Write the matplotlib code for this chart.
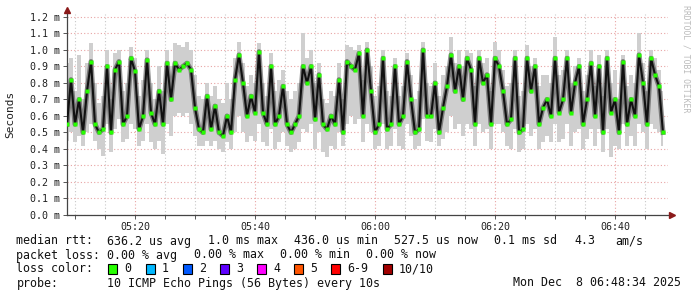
import numpy as np
import pandas as pd
import matplotlib
matplotlib.use("Agg")
import matplotlib.pyplot as plt
import matplotlib.dates as mdates
from matplotlib.patches import Rectangle

# median rtt in ms, one value every 40 s from 05:08:40
median_ms = [
    0.55, 0.82, 0.55, 0.70, 0.50, 0.75, 0.93, 0.55, 0.50, 0.52,
    0.90, 0.50, 0.88, 0.93, 0.55, 0.60, 0.95, 0.87, 0.52, 0.60,
    0.94, 0.62, 0.55, 0.75, 0.55, 0.92, 0.70, 0.92, 0.88, 0.90,
    0.92, 0.88, 0.65, 0.52, 0.50, 0.72, 0.52, 0.66, 0.50, 0.48,
    0.60, 0.50, 0.82, 0.97, 0.80, 0.60, 0.72, 0.62, 0.99, 0.62,
    0.55, 0.90, 0.55, 0.60, 0.78, 0.55, 0.50, 0.55, 0.60, 0.90,
    0.80, 0.90, 0.58, 0.85, 0.55, 0.52, 0.60, 0.55, 0.82, 0.50,
    0.93, 0.90, 0.88, 0.98, 0.60, 1.00, 0.75, 0.50, 0.55, 0.95,
    0.52, 0.55, 0.90, 0.55, 0.60, 0.93, 0.70, 0.50, 0.52, 1.00,
    0.60, 0.60, 0.80, 0.50, 0.65, 0.78, 0.97, 0.75, 0.90, 0.70,
    0.95, 0.88, 0.55, 0.95, 0.80, 0.85, 0.55, 0.95, 0.90, 0.75,
    0.55, 0.58, 0.95, 0.50, 0.52, 0.95, 0.75, 0.90, 0.55, 0.65,
    0.70, 0.60, 0.95, 0.62, 0.70, 0.95, 0.62, 0.80, 0.90, 0.55,
    0.70, 0.92, 0.60, 0.90, 0.50, 0.95, 0.62, 0.70, 0.50, 0.93,
    0.55, 0.70, 0.60, 0.97, 0.80, 0.55, 0.95, 0.85, 0.78, 0.50,
]

# slowest ping of each step (top of the smoke)
smoke_hi_ms = [
    0.92, 0.95, 0.75, 0.97, 0.70, 0.92, 1.04, 0.80, 0.68, 0.72,
    1.00, 0.70, 0.98, 1.00, 0.75, 0.80, 1.02, 0.95, 0.72, 0.82,
    1.00, 0.80, 0.70, 0.90, 0.75, 1.00, 0.90, 1.04, 1.03, 1.02,
    1.05, 1.00, 0.85, 0.72, 0.70, 0.80, 0.72, 0.78, 0.70, 0.68,
    0.80, 0.70, 0.95, 1.05, 0.92, 0.78, 0.85, 0.80, 1.04, 0.80,
    0.72, 0.98, 0.75, 0.82, 0.88, 0.75, 0.70, 0.75, 0.80, 1.10,
    0.95, 1.00, 0.80, 0.92, 0.70, 0.68, 0.75, 0.72, 0.92, 0.70,
    1.03, 1.02, 1.00, 1.03, 0.82, 1.05, 0.90, 0.72, 0.78, 1.00,
    0.75, 0.72, 0.95, 0.72, 0.78, 0.98, 0.85, 0.70, 0.75, 1.05,
    0.80, 0.78, 0.92, 0.72, 0.85, 0.90, 1.08, 0.92, 1.00, 0.90,
    1.00, 0.98, 0.78, 1.00, 0.92, 0.95, 0.75, 1.05, 1.00, 0.88,
    0.78, 0.80, 1.00, 0.72, 0.75, 1.03, 0.90, 0.95, 0.78, 0.85,
    0.85, 0.80, 1.08, 0.85, 0.88, 1.00, 0.80, 0.90, 0.95, 0.75,
    0.85, 1.00, 0.78, 0.97, 0.72, 1.00, 0.80, 0.88, 0.70, 0.97,
    0.78, 0.85, 0.80, 1.10, 0.92, 0.75, 1.00, 0.95, 0.88, 0.75,
]

# fastest ping of each step (bottom of the smoke)
smoke_lo_ms = [
    0.45, 0.50, 0.44, 0.48, 0.42, 0.50, 0.55, 0.45, 0.40, 0.36,
    0.55, 0.38, 0.52, 0.58, 0.44, 0.46, 0.55, 0.52, 0.42, 0.45,
    0.55, 0.44, 0.40, 0.45, 0.37, 0.55, 0.48, 0.60, 0.62, 0.60,
    0.62, 0.55, 0.48, 0.42, 0.42, 0.45, 0.42, 0.45, 0.40, 0.38,
    0.44, 0.40, 0.50, 0.60, 0.50, 0.44, 0.48, 0.45, 0.55, 0.44,
    0.42, 0.52, 0.40, 0.44, 0.50, 0.42, 0.38, 0.40, 0.44, 0.52,
    0.50, 0.55, 0.40, 0.50, 0.38, 0.35, 0.42, 0.40, 0.50, 0.42,
    0.55, 0.60, 0.55, 0.58, 0.44, 0.55, 0.50, 0.40, 0.42, 0.55,
    0.40, 0.42, 0.52, 0.42, 0.40, 0.55, 0.48, 0.40, 0.42, 0.58,
    0.45, 0.44, 0.52, 0.42, 0.46, 0.50, 0.60, 0.52, 0.55, 0.48,
    0.55, 0.52, 0.42, 0.55, 0.50, 0.52, 0.40, 0.55, 0.55, 0.50,
    0.42, 0.40, 0.52, 0.38, 0.40, 0.55, 0.48, 0.52, 0.40, 0.44,
    0.48, 0.44, 0.55, 0.44, 0.46, 0.55, 0.42, 0.50, 0.52, 0.40,
    0.46, 0.52, 0.42, 0.52, 0.38, 0.52, 0.35, 0.42, 0.40, 0.55,
    0.42, 0.48, 0.42, 0.55, 0.50, 0.40, 0.55, 0.52, 0.50, 0.42,
]

y_ticks = [0.0, 0.1, 0.2, 0.3, 0.4, 0.5, 0.6, 0.7, 0.8, 0.9, 1.0, 1.1, 1.2]

legend_rtt = [("median rtt:", 16.5), ("636.2 us avg", 107), ("1.0 ms max", 208),
              ("436.0 us min", 294), ("527.5 us now", 394), ("0.1 ms sd", 494),
              ("4.3", 574), ("am/s", 615)]
legend_loss = [("packet loss:", 16.5), ("0.00 % avg", 107), ("0.00 % max", 194),
               ("0.00 % min", 279.5), ("0.00 % now", 366)]
loss_labels = ["0", "1", "2", "3", "4", "5", "6-9", "10/10"]
loss_colors = ["#26ff00", "#00b8ff", "#0059ff", "#5e00ff", "#ff00ff", "#ff5500", "#ff0000", "#a10000"]
loss_box_x = [108, 146, 183, 220, 257, 294, 331, 383]

t_med = pd.date_range("2025-12-08 05:08:40", periods=len(median_ms), freq="40s")

W, H = 697, 297
fig = plt.figure(figsize=(W / 100, H / 100), dpi=100, facecolor="white")
ax = fig.add_axes([67 / W, (H - 215) / H, (668 - 67) / W, (215 - 14) / H])
mono = "DejaVu Sans Mono"

# smoke
ax.fill_between(t_med, smoke_lo_ms, smoke_hi_ms, step="mid", color="#cfcfcf", lw=0, zorder=2)
ax.plot(t_med, median_ms, color="#3a3a3a", lw=3.6, alpha=0.55, zorder=3)
# median
ax.plot(t_med, median_ms, color="#111111", lw=1.5, zorder=4)
ax.plot(t_med, median_ms, ls="none", marker="s", ms=2.4, mec="none", mfc="#26ff00", zorder=5)

ax.set_xlim(pd.Timestamp("2025-12-08 05:08:40"), pd.Timestamp("2025-12-08 06:48:50"))
ax.set_ylim(0, 1.218)

ax.xaxis.set_major_locator(mdates.MinuteLocator(byminute=[0, 20, 40]))
ax.xaxis.set_major_formatter(mdates.DateFormatter("%H:%M"))
ax.xaxis.set_minor_locator(mdates.MinuteLocator(byminute=range(0, 60, 5)))
ax.set_yticks(y_ticks)
ax.set_yticklabels([f"{v:.1f} m" for v in y_ticks])

ax.grid(True, which="major", axis="both", color="#e8a4a4", ls=(0, (1, 2)), lw=0.8, zorder=1)
ax.grid(True, which="minor", axis="x", color="#c8c8c8", ls=(0, (1, 2)), lw=0.8, zorder=1)
for lab in ax.get_xticklabels() + ax.get_yticklabels():
    lab.set_fontfamily(mono)
    lab.set_fontsize(7.2)
    lab.set_color("#222222")
ax.tick_params(which="both", length=3, width=0.7, color="#555555", pad=2)

for s in ["top", "right"]:
    ax.spines[s].set_visible(False)
for s in ["left", "bottom"]:
    ax.spines[s].set_color("#444444")
    ax.spines[s].set_linewidth(0.9)

ax.plot([0], [1.02], marker="^", ms=4, color="#8b1a1a", transform=ax.transAxes, clip_on=False)
ax.plot([1.007], [0], marker=">", ms=4, color="#8b1a1a", transform=ax.transAxes, clip_on=False)

fig.text(10 / W, 1 - 114 / H, "Seconds", rotation=90, ha="center", va="center",
         fontfamily=mono, fontsize=8, color="#222222")
fig.text(686 / W, 1 - 59 / H, "RRDTOOL / TOBI OETIKER", rotation=270, ha="center", va="center",
         fontfamily=mono, fontsize=5.9, color="#bbbbbb")

fs = 8.4
def put(txt, x, y, ha="left"):
    fig.text(x / W, 1 - y / H, txt, ha=ha, va="center", fontfamily=mono, fontsize=fs, color="#111111")

for txt, x in legend_rtt:
    put(txt, x, 241)
for txt, x in legend_loss:
    put(txt, x, 255)
put("loss color:", 16.5, 269)
for lab, col, bx in zip(loss_labels, loss_colors, loss_box_x):
    fig.patches.append(Rectangle((bx / W, 1 - 274 / H), 9 / W, 10 / H, transform=fig.transFigure,
                                 facecolor=col, edgecolor="#000000", lw=0.8))
    put(lab, bx + 16, 269)
put("probe:", 16.5, 283)
put("10 ICMP Echo Pings (56 Bytes) every 10s", 107, 283)
put("Mon Dec  8 06:48:34 2025", 681, 283, ha="right")

fig.savefig("out.png", dpi=100, facecolor="white")
